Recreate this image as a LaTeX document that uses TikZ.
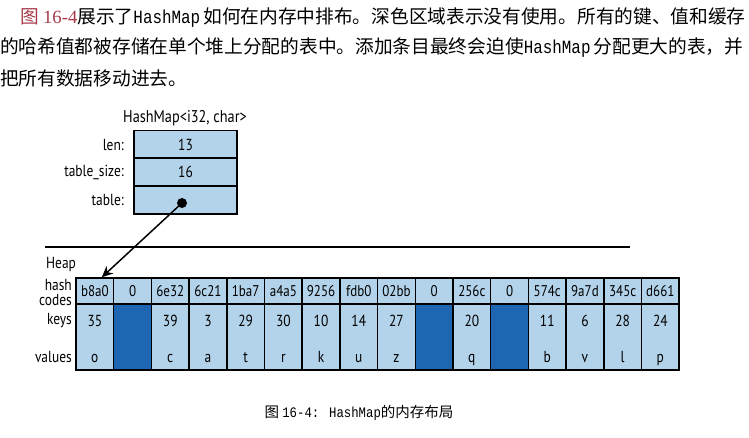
\documentclass[tikz,border=0pt]{standalone}
\usepackage{fontspec}
\usetikzlibrary{arrows.meta}
\newfontfamily\cjk{Noto Sans CJK SC}
\newfontfamily\dfont[FakeStretch=0.84]{PT Sans}
\newfontfamily\monof[FakeStretch=0.85]{Liberation Mono}
\newfontfamily\serf{Liberation Serif}
\definecolor{lightb}{RGB}{179,211,234}
\definecolor{darkb}{RGB}{31,102,178}
\definecolor{figred}{RGB}{168,58,74}
\tikzset{
  txt/.style={anchor=west,inner sep=0,font=\cjk\fontsize{18.7}{20}\selectfont},
  dtxt/.style={inner sep=0,font=\dfont\fontsize{16}{17}\selectfont},
  lbl/.style={dtxt,anchor=east,align=right},
  sbox/.style={draw,line width=1.5pt,fill=lightb,minimum width=103pt,minimum height=27.7pt,inner sep=0,font=\dfont\fontsize{16}{17}\selectfont},
  hcell/.style={draw,line width=1.5pt,fill=lightb,minimum width=37.7pt,minimum height=26pt,inner sep=0,font=\dfont\fontsize{15.5}{17}\selectfont},
  kvcell/.style={draw,line width=1.5pt,minimum width=37.7pt,minimum height=66pt,inner sep=0},
  ctxt/.style={dtxt,anchor=base},
  ptr/.style={line width=1.5pt,-{Stealth[length=11pt,width=10pt]}}
}
\begin{document}
\begin{tikzpicture}[x=1pt,y=-1pt]
\fill[white] (0,0) rectangle (749,437);
\useasboundingbox (0,0) rectangle (749,437);
% paragraph
\node[txt] (l1) at (20,18) {{\color{figred}图 \serf 16-4}展示了{\monof HashMap}\,如何在内存中排布。深色区域表示没有使用。所有的键、值和缓存};
\node[txt] (l2) at (0,48) {的哈希值都被存储在单个堆上分配的表中。添加条目最终会迫使{\monof HashMap}\,分配更大的表，并};
\node[txt] (l3) at (0,78) {把所有数据移动进去。};
% struct
\node[dtxt,font=\dfont\fontsize{17}{18}\selectfont] (title) at (185,118) {HashMap<i32, char>};
\node[sbox] (s1) at (185.5,144.5) {13};
\node[sbox] (s2) at (185.5,172) {16};
\node[sbox] (s3) at (185.5,200) {};
\node[lbl] (len) at (124,145) {len:};
\node[lbl] (tsize) at (124,172) {table\_size:};
\node[lbl] (tab) at (124,200) {table:};
% heap
\coordinate (hl) at (45,247);
\coordinate (hr) at (630,247);
\draw[line width=1.5pt] (hl) -- (hr);
\node[dtxt,anchor=west] (heap) at (46,264) {Heap};
\node[lbl] (hash) at (72,292) {hash\\[-2pt]codes};
\node[lbl] (keys) at (72,321) {keys};
\node[lbl] (vals) at (72,357) {values};
\foreach \h/\k/\v/\c [count=\i] in {b8a0/35/o/lightb,0/{}/{}/darkb,6e32/39/c/lightb,6c21/3/a/lightb,1ba7/29/t/lightb,a4a5/30/r/lightb,9256/10/k/lightb,fdb0/14/u/lightb,02bb/27/z/lightb,0/{}/{}/darkb,256c/20/q/lightb,0/{}/{}/darkb,574c/11/b/lightb,9a7d/6/v/lightb,345c/28/l/lightb,d661/24/p/lightb}{
  \pgfmathsetmacro\xc{76+(\i-0.5)*37.7}
  \node[hcell] (h\i) at (\xc,291) {\h};
  \node[kvcell,fill=\c] (c\i) at (\xc,337) {};
  \node[ctxt] (k\i) at (\xc,326) {\k};
  \node[ctxt] (v\i) at (\xc,362) {\v};
}
% pointer
\node[circle,fill=black,inner sep=0,minimum size=10pt] (dot) at (182,203) {};
\draw[ptr] (dot.center) -- ([xshift=7pt]h1.north);
% caption
\node[inner sep=0,font=\cjk\fontsize{14.5}{16}\selectfont] (cap) at (359,413) {图 {\monof 16-4: HashMap}的内存布局};
\end{tikzpicture}
\end{document}
